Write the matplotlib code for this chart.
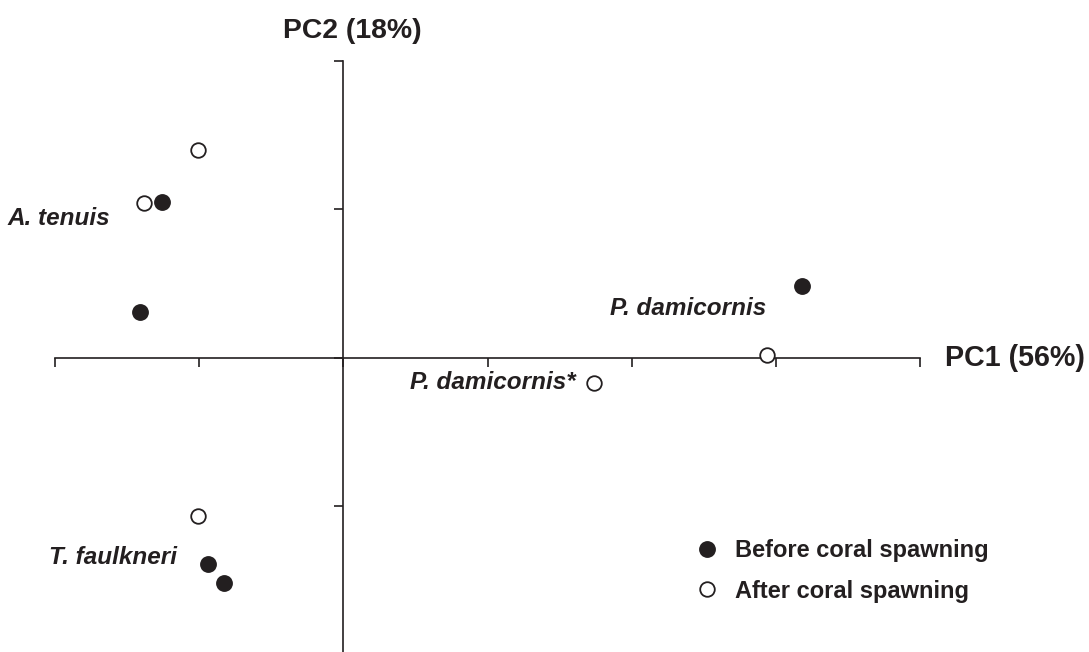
import matplotlib
matplotlib.use("Agg")
import matplotlib.pyplot as plt

plt.rcParams["font.family"] = ["Liberation Sans", "DejaVu Sans"]

INK = "#231f20"

# PCA scores (PC1, PC2)
before_pc1 = [-1.26, -1.41, 3.18, -0.94, -0.83]
before_pc2 = [1.05, 0.31, 0.48, -1.39, -1.52]
after_pc1 = [-1.01, -1.38, 2.94, 1.74, -1.01]
after_pc2 = [1.40, 1.04, 0.02, -0.17, -1.07]

species = ["A. tenuis", "T. faulkneri", "P. damicornis", "P. damicornis*"]
species_x = [-2.33, -2.04, 1.85, 0.46]
species_y = [0.94, -1.35, 0.33, -0.17]

x_ticks = [-2, -1, 0, 1, 2, 3, 4]
y_ticks = [-2, -1, 0, 1, 2]

W, H = 1089, 652
fig = plt.figure(figsize=(W / 100, H / 100), dpi=100)
ax = fig.add_axes([55 / W, 1 - 654 / H, 865 / W, 593 / H])
ax.set_xlim(-2, 4)
ax.set_ylim(-2, 2)

for side in ["top", "right"]:
    ax.spines[side].set_visible(False)
for side in ["left", "bottom"]:
    ax.spines[side].set_position(("data", 0))
    ax.spines[side].set_color(INK)
    ax.spines[side].set_linewidth(1.2)

ax.set_xticks(x_ticks)
ax.set_yticks(y_ticks)
ax.set_xticklabels([])
ax.set_yticklabels([])
ax.tick_params(axis="x", direction="out", length=6.5, width=1.2, color=INK)
ax.tick_params(axis="y", direction="out", length=6.5, width=1.2, color=INK)

ax.plot(before_pc1, before_pc2, "o", ms=11, color=INK, mec=INK,
        mew=1.1, clip_on=False, zorder=3, label="Before coral spawning")
ax.plot(after_pc1, after_pc2, "o", ms=10.5, mfc="white", mec=INK,
        mew=1.3, clip_on=False, zorder=3, label="After coral spawning")

for name, sx, sy in zip(species, species_x, species_y):
    ax.text(sx, sy, name, fontsize=17.5, fontweight="bold", style="italic",
            color=INK, ha="left", va="center", clip_on=False)

ax.text(4.17, 0, "PC1 (56%)", fontsize=20.6, fontweight="bold", color=INK,
        ha="left", va="center", clip_on=False)
ax.text(0.06, 2.2, "PC2 (18%)", fontsize=20.4, fontweight="bold", color=INK,
        ha="center", va="center", clip_on=False)

leg = ax.legend(loc="center left", bbox_to_anchor=(695 / W, 1 - 571 / H),
                bbox_transform=fig.transFigure, frameon=False, fontsize=17,
                handlelength=1.0, handletextpad=0.69, labelspacing=0.74,
                borderpad=0, borderaxespad=0)
for t in leg.get_texts():
    t.set_fontweight("bold")
    t.set_color(INK)

fig.savefig("out.png", dpi=100)
